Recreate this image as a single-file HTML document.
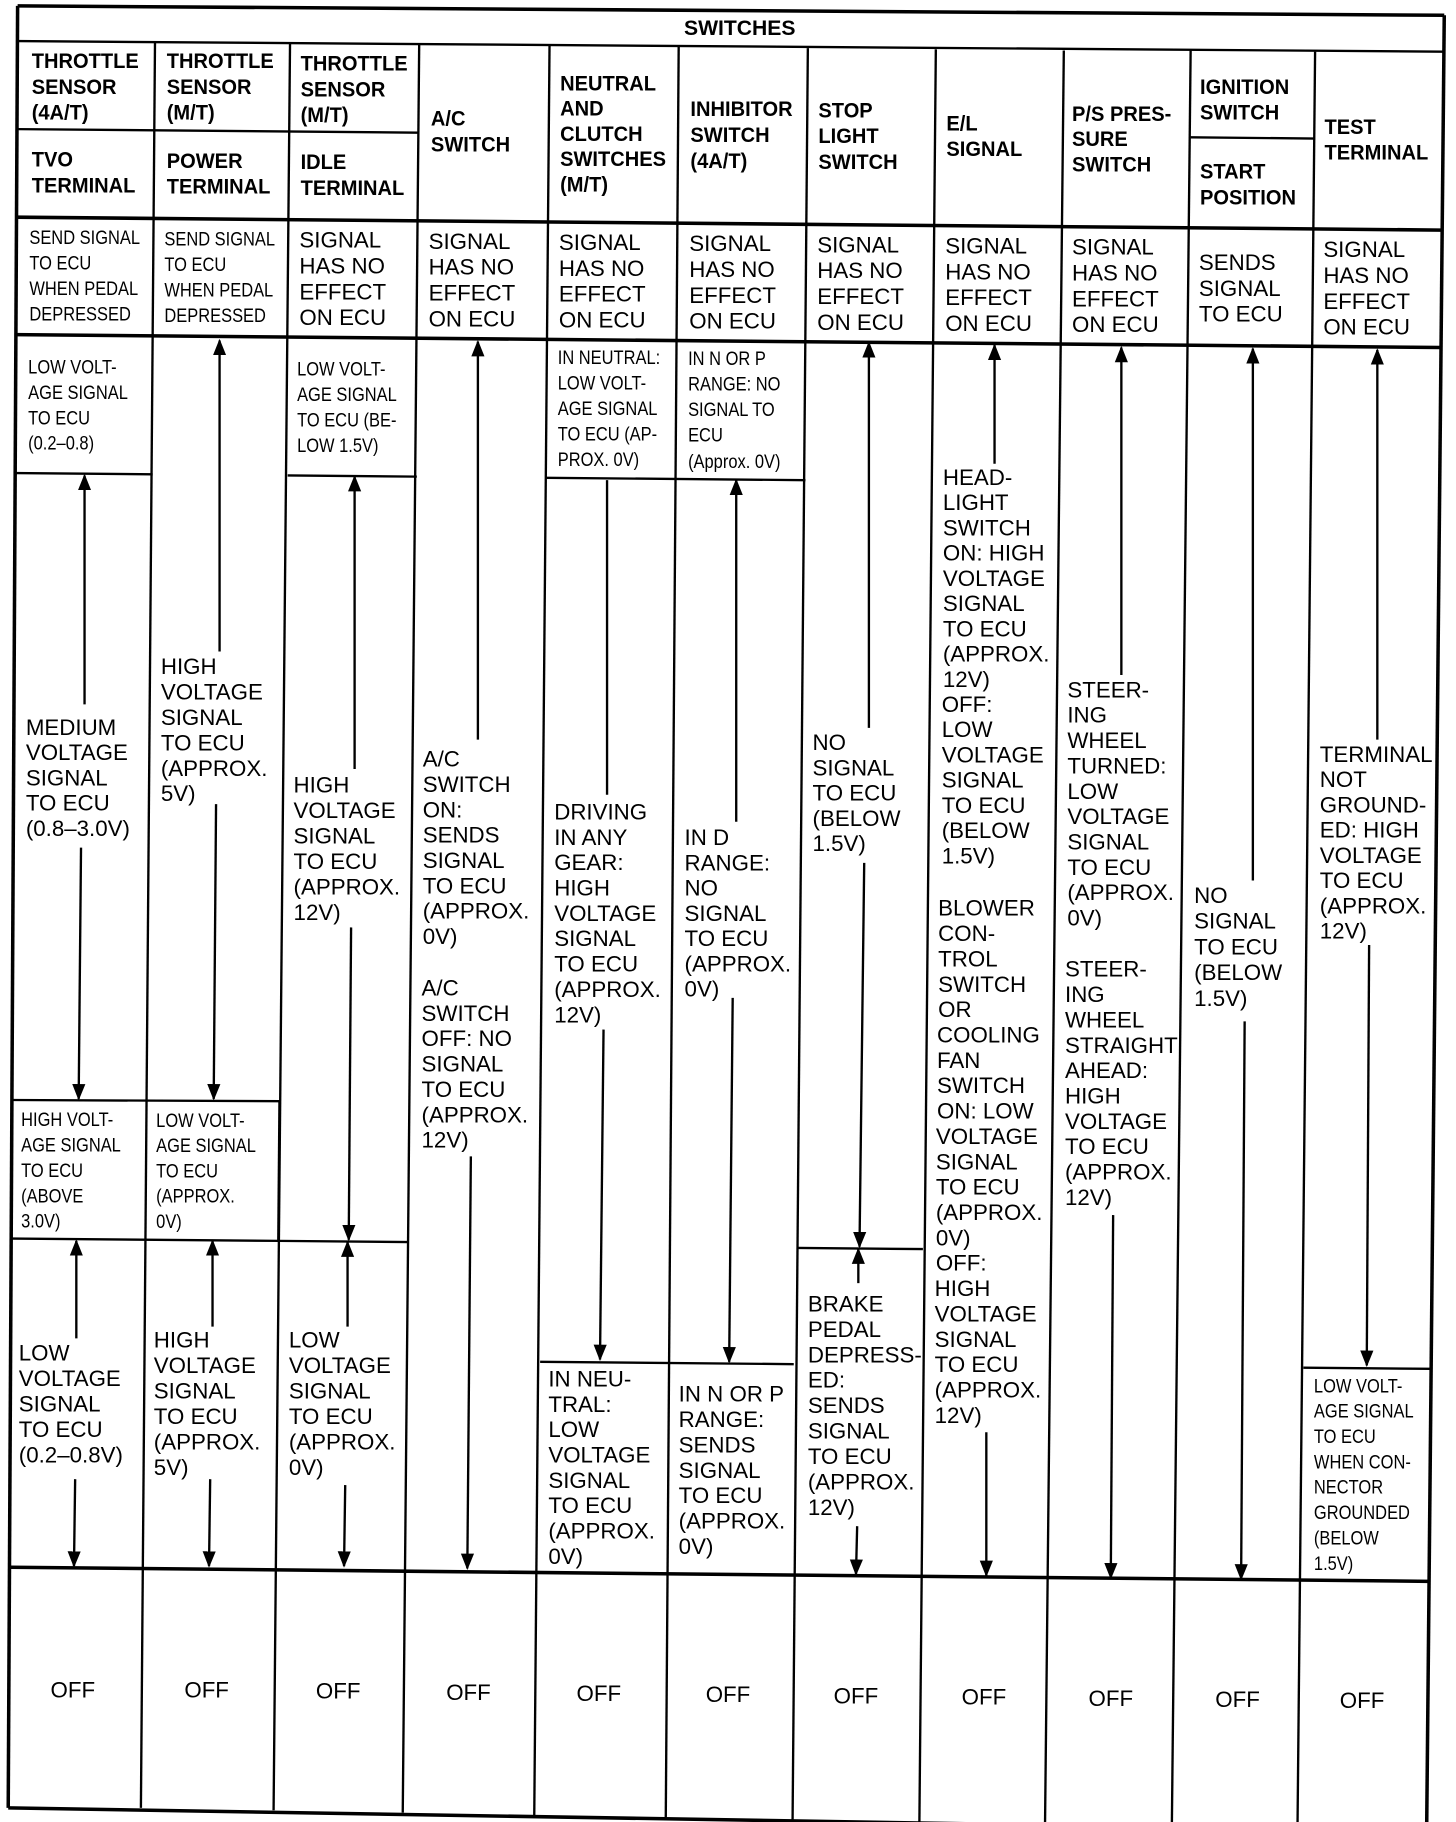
<!DOCTYPE html>
<html><head><meta charset="utf-8"><style>
html,body{margin:0;padding:0;background:#fff}
svg{display:block}
text{font-family:"Liberation Sans Narrow","Liberation Sans",sans-serif;fill:#000}
.h{font-size:18px;font-weight:bold;transform-box:fill-box;transform-origin:left center;transform:scaleX(0.95)}
.b{font-size:19px}
.c{font-size:16.5px;transform-box:fill-box;transform-origin:left center;transform:scaleX(0.85)}
.o{font-size:19px}
line,polyline{stroke:#000;stroke-width:2;fill:none}
.t{stroke-width:3}
</style></head><body>
<svg width="1456" height="1822" viewBox="0 0 1240 1552" preserveAspectRatio="none" xmlns="http://www.w3.org/2000/svg">
<defs><marker id="a" viewBox="0 0 10 10" refX="9" refY="5" markerWidth="7" markerHeight="9" orient="auto"><path d="M0,1 L10,5 L0,9 z" fill="#000"/></marker></defs>
<line class="t" x1="15" y1="5" x2="1230" y2="13"/>
<line class="t" x1="15" y1="5" x2="7" y2="1540"/>
<line class="t" x1="1230" y1="13" x2="1215" y2="1560"/>
<line class="t" x1="7" y1="1540" x2="1215" y2="1560"/>
<line x1="15" y1="35" x2="1230" y2="44"/>
<line class="t" x1="14" y1="185" x2="1228" y2="196"/>
<line class="t" x1="13" y1="285" x2="1227" y2="296"/>
<line class="t" x1="9" y1="1335" x2="1217" y2="1347"/>
<line x1="132" y1="36" x2="120" y2="1540"/>
<line x1="247" y1="37" x2="233" y2="1542"/>
<line x1="357" y1="38" x2="343" y2="1544"/>
<line x1="468" y1="39" x2="455" y2="1546"/>
<line x1="578" y1="40" x2="567" y2="1548"/>
<line x1="688" y1="41" x2="675" y2="1550"/>
<line x1="797" y1="42" x2="783" y2="1552"/>
<line x1="906" y1="43" x2="890" y2="1554"/>
<line x1="1014" y1="43" x2="998" y2="1556"/>
<line x1="1120" y1="44" x2="1105" y2="1558"/>
<line x1="15" y1="110" x2="357" y2="113"/>
<line x1="1014" y1="117" x2="1120" y2="118"/>
<line x1="13" y1="403" x2="130" y2="404"/>
<line x1="11" y1="937" x2="238" y2="938"/>
<line x1="10" y1="1055" x2="238" y2="1057"/>
<line x1="238" y1="937" x2="237" y2="1057"/>
<line x1="245" y1="405" x2="355" y2="406"/>
<line x1="237" y1="1057" x2="348" y2="1058"/>
<line x1="465" y1="407" x2="686" y2="409"/>
<line x1="460" y1="1160" x2="676" y2="1162"/>
<line x1="680" y1="1063" x2="786" y2="1064"/>
<line x1="1110" y1="1165" x2="1218" y2="1166"/>
<g>
<line x1="72" y1="600" x2="72" y2="405" marker-end="url(#a)"/><line x1="69" y1="722" x2="67" y2="936" marker-end="url(#a)"/>
<line x1="65" y1="1140" x2="65" y2="1057" marker-end="url(#a)"/><line x1="64" y1="1260" x2="63" y2="1334" marker-end="url(#a)"/>
<line x1="187" y1="555" x2="187" y2="290" marker-end="url(#a)"/><line x1="184" y1="685" x2="182" y2="936" marker-end="url(#a)"/>
<line x1="181" y1="1130" x2="181" y2="1057" marker-end="url(#a)"/><line x1="179" y1="1260" x2="178" y2="1334" marker-end="url(#a)"/>
<line x1="302" y1="655" x2="302" y2="406" marker-end="url(#a)"/><line x1="299" y1="790" x2="297" y2="1056" marker-end="url(#a)"/>
<line x1="296" y1="1130" x2="296" y2="1058" marker-end="url(#a)"/><line x1="294" y1="1265" x2="293" y2="1334" marker-end="url(#a)"/>
<line x1="407" y1="630" x2="407" y2="291" marker-end="url(#a)"/><line x1="401" y1="985" x2="398" y2="1336" marker-end="url(#a)"/>
<line x1="517" y1="677" x2="517" y2="409"/><line x1="514" y1="877" x2="511" y2="1158" marker-end="url(#a)"/>
<line x1="627" y1="700" x2="627" y2="409" marker-end="url(#a)"/><line x1="624" y1="850" x2="621" y2="1160" marker-end="url(#a)"/>
<line x1="740" y1="620" x2="740" y2="292" marker-end="url(#a)"/><line x1="736" y1="735" x2="732" y2="1062" marker-end="url(#a)"/>
<line x1="731" y1="1093" x2="731" y2="1064" marker-end="url(#a)"/><line x1="730" y1="1300" x2="729" y2="1341" marker-end="url(#a)"/>
<line x1="847" y1="395" x2="847" y2="294" marker-end="url(#a)"/><line x1="840" y1="1220" x2="840" y2="1342" marker-end="url(#a)"/>
<line x1="955" y1="575" x2="955" y2="296" marker-end="url(#a)"/><line x1="948" y1="1035" x2="946" y2="1344" marker-end="url(#a)"/>
<line x1="1067" y1="750" x2="1067" y2="297" marker-end="url(#a)"/><line x1="1060" y1="870" x2="1057" y2="1345" marker-end="url(#a)"/>
<line x1="1173" y1="630" x2="1173" y2="298" marker-end="url(#a)"/><line x1="1166" y1="805" x2="1164" y2="1163" marker-end="url(#a)"/>
</g>
<text x="630" y="30" text-anchor="middle" style="font-size:18px;font-weight:bold">SWITCHES</text>
<text class="h"><tspan x="27" y="58">THROTTLE</tspan><tspan x="27" dy="22">SENSOR</tspan><tspan x="27" dy="22">(4A/T)</tspan><tspan x="27" y="142">TVO</tspan><tspan x="27" dy="22">TERMINAL</tspan></text>
<text class="h"><tspan x="142" y="58">THROTTLE</tspan><tspan x="142" dy="22">SENSOR</tspan><tspan x="142" dy="22">(M/T)</tspan><tspan x="142" y="143">POWER</tspan><tspan x="142" dy="22">TERMINAL</tspan></text>
<text class="h"><tspan x="256" y="60">THROTTLE</tspan><tspan x="256" dy="22">SENSOR</tspan><tspan x="256" dy="22">(M/T)</tspan><tspan x="256" y="144">IDLE</tspan><tspan x="256" dy="22">TERMINAL</tspan></text>
<text class="h"><tspan x="367" y="107">A/C</tspan><tspan x="367" dy="22">SWITCH</tspan></text>
<text class="h"><tspan x="477" y="77">NEUTRAL</tspan><tspan x="477" dy="21.5">AND</tspan><tspan x="477" dy="21.5">CLUTCH</tspan><tspan x="477" dy="21.5">SWITCHES</tspan><tspan x="477" dy="21.5">(M/T)</tspan></text>
<text class="h"><tspan x="588" y="99">INHIBITOR</tspan><tspan x="588" dy="22">SWITCH</tspan><tspan x="588" dy="22">(4A/T)</tspan></text>
<text class="h"><tspan x="697" y="100">STOP</tspan><tspan x="697" dy="22">LIGHT</tspan><tspan x="697" dy="22">SWITCH</tspan></text>
<text class="h"><tspan x="806" y="111">E/L</tspan><tspan x="806" dy="22">SIGNAL</tspan></text>
<text class="h"><tspan x="913" y="103">P/S PRES-</tspan><tspan x="913" dy="21.5">SURE</tspan><tspan x="913" dy="21.5">SWITCH</tspan></text>
<text class="h"><tspan x="1022" y="80">IGNITION</tspan><tspan x="1022" dy="22">SWITCH</tspan><tspan x="1022" y="152">START</tspan><tspan x="1022" dy="22">POSITION</tspan></text>
<text class="h"><tspan x="1128" y="114">TEST</tspan><tspan x="1128" dy="22">TERMINAL</tspan></text>
<text class="c"><tspan x="25" y="208">SEND SIGNAL</tspan><tspan x="25" dy="21.7">TO ECU</tspan><tspan x="25" dy="21.7">WHEN PEDAL</tspan><tspan x="25" dy="21.7">DEPRESSED</tspan></text>
<text class="c"><tspan x="140" y="209">SEND SIGNAL</tspan><tspan x="140" dy="21.7">TO ECU</tspan><tspan x="140" dy="21.7">WHEN PEDAL</tspan><tspan x="140" dy="21.7">DEPRESSED</tspan></text>
<text class="b"><tspan x="255" y="211">SIGNAL</tspan><tspan x="255" dy="22">HAS NO</tspan><tspan x="255" dy="22">EFFECT</tspan><tspan x="255" dy="22">ON ECU</tspan></text>
<text class="b"><tspan x="365" y="212">SIGNAL</tspan><tspan x="365" dy="22">HAS NO</tspan><tspan x="365" dy="22">EFFECT</tspan><tspan x="365" dy="22">ON ECU</tspan></text>
<text class="b"><tspan x="476" y="213">SIGNAL</tspan><tspan x="476" dy="22">HAS NO</tspan><tspan x="476" dy="22">EFFECT</tspan><tspan x="476" dy="22">ON ECU</tspan></text>
<text class="b"><tspan x="587" y="214">SIGNAL</tspan><tspan x="587" dy="22">HAS NO</tspan><tspan x="587" dy="22">EFFECT</tspan><tspan x="587" dy="22">ON ECU</tspan></text>
<text class="b"><tspan x="696" y="215">SIGNAL</tspan><tspan x="696" dy="22">HAS NO</tspan><tspan x="696" dy="22">EFFECT</tspan><tspan x="696" dy="22">ON ECU</tspan></text>
<text class="b"><tspan x="805" y="216">SIGNAL</tspan><tspan x="805" dy="22">HAS NO</tspan><tspan x="805" dy="22">EFFECT</tspan><tspan x="805" dy="22">ON ECU</tspan></text>
<text class="b"><tspan x="913" y="217">SIGNAL</tspan><tspan x="913" dy="22">HAS NO</tspan><tspan x="913" dy="22">EFFECT</tspan><tspan x="913" dy="22">ON ECU</tspan></text>
<text class="b"><tspan x="1021" y="230">SENDS</tspan><tspan x="1021" dy="22">SIGNAL</tspan><tspan x="1021" dy="22">TO ECU</tspan></text>
<text class="b"><tspan x="1127" y="219">SIGNAL</tspan><tspan x="1127" dy="22">HAS NO</tspan><tspan x="1127" dy="22">EFFECT</tspan><tspan x="1127" dy="22">ON ECU</tspan></text>
<text class="c"><tspan x="24" y="318">LOW VOLT-</tspan><tspan x="24" dy="21.7">AGE SIGNAL</tspan><tspan x="24" dy="21.7">TO ECU</tspan><tspan x="24" dy="21.7">(0.2–0.8)</tspan></text>
<text class="b"><tspan x="22" y="626">MEDIUM</tspan><tspan x="22" dy="21.5">VOLTAGE</tspan><tspan x="22" dy="21.5">SIGNAL</tspan><tspan x="22" dy="21.5">TO ECU</tspan><tspan x="22" dy="21.5">(0.8–3.0V)</tspan></text>
<text class="c"><tspan x="18" y="959">HIGH VOLT-</tspan><tspan x="18" dy="21.7">AGE SIGNAL</tspan><tspan x="18" dy="21.7">TO ECU</tspan><tspan x="18" dy="21.7">(ABOVE</tspan><tspan x="18" dy="21.7">3.0V)</tspan></text>
<text class="b"><tspan x="16" y="1159">LOW</tspan><tspan x="16" dy="21.7">VOLTAGE</tspan><tspan x="16" dy="21.7">SIGNAL</tspan><tspan x="16" dy="21.7">TO ECU</tspan><tspan x="16" dy="21.7">(0.2–0.8V)</tspan></text>
<text class="b"><tspan x="137" y="574">HIGH</tspan><tspan x="137" dy="21.7">VOLTAGE</tspan><tspan x="137" dy="21.7">SIGNAL</tspan><tspan x="137" dy="21.7">TO ECU</tspan><tspan x="137" dy="21.7">(APPROX.</tspan><tspan x="137" dy="21.7">5V)</tspan></text>
<text class="c"><tspan x="133" y="960">LOW VOLT-</tspan><tspan x="133" dy="21.5">AGE SIGNAL</tspan><tspan x="133" dy="21.5">TO ECU</tspan><tspan x="133" dy="21.5">(APPROX.</tspan><tspan x="133" dy="21.5">0V)</tspan></text>
<text class="b"><tspan x="131" y="1148">HIGH</tspan><tspan x="131" dy="21.7">VOLTAGE</tspan><tspan x="131" dy="21.7">SIGNAL</tspan><tspan x="131" dy="21.7">TO ECU</tspan><tspan x="131" dy="21.7">(APPROX.</tspan><tspan x="131" dy="21.7">5V)</tspan></text>
<text class="c"><tspan x="253" y="320">LOW VOLT-</tspan><tspan x="253" dy="21.7">AGE SIGNAL</tspan><tspan x="253" dy="21.7">TO ECU (BE-</tspan><tspan x="253" dy="21.7">LOW 1.5V)</tspan></text>
<text class="b"><tspan x="250" y="675">HIGH</tspan><tspan x="250" dy="21.7">VOLTAGE</tspan><tspan x="250" dy="21.7">SIGNAL</tspan><tspan x="250" dy="21.7">TO ECU</tspan><tspan x="250" dy="21.7">(APPROX.</tspan><tspan x="250" dy="21.7">12V)</tspan></text>
<text class="b"><tspan x="246" y="1148">LOW</tspan><tspan x="246" dy="21.7">VOLTAGE</tspan><tspan x="246" dy="21.7">SIGNAL</tspan><tspan x="246" dy="21.7">TO ECU</tspan><tspan x="246" dy="21.7">(APPROX.</tspan><tspan x="246" dy="21.7">0V)</tspan></text>
<text class="b"><tspan x="360" y="653">A/C</tspan><tspan x="360" dy="21.6">SWITCH</tspan><tspan x="360" dy="21.6">ON:</tspan><tspan x="360" dy="21.6">SENDS</tspan><tspan x="360" dy="21.6">SIGNAL</tspan><tspan x="360" dy="21.6">TO ECU</tspan><tspan x="360" dy="21.6">(APPROX.</tspan><tspan x="360" dy="21.6">0V)</tspan></text>
<text class="b"><tspan x="359" y="848">A/C</tspan><tspan x="359" dy="21.6">SWITCH</tspan><tspan x="359" dy="21.6">OFF: NO</tspan><tspan x="359" dy="21.6">SIGNAL</tspan><tspan x="359" dy="21.6">TO ECU</tspan><tspan x="359" dy="21.6">(APPROX.</tspan><tspan x="359" dy="21.6">12V)</tspan></text>
<text class="c"><tspan x="475" y="310">IN NEUTRAL:</tspan><tspan x="475" dy="21.7">LOW VOLT-</tspan><tspan x="475" dy="21.7">AGE SIGNAL</tspan><tspan x="475" dy="21.7">TO ECU (AP-</tspan><tspan x="475" dy="21.7">PROX. 0V)</tspan></text>
<text class="b"><tspan x="472" y="698">DRIVING</tspan><tspan x="472" dy="21.6">IN ANY</tspan><tspan x="472" dy="21.6">GEAR:</tspan><tspan x="472" dy="21.6">HIGH</tspan><tspan x="472" dy="21.6">VOLTAGE</tspan><tspan x="472" dy="21.6">SIGNAL</tspan><tspan x="472" dy="21.6">TO ECU</tspan><tspan x="472" dy="21.6">(APPROX.</tspan><tspan x="472" dy="21.6">12V)</tspan></text>
<text class="b"><tspan x="467" y="1181">IN NEU-</tspan><tspan x="467" dy="21.6">TRAL:</tspan><tspan x="467" dy="21.6">LOW</tspan><tspan x="467" dy="21.6">VOLTAGE</tspan><tspan x="467" dy="21.6">SIGNAL</tspan><tspan x="467" dy="21.6">TO ECU</tspan><tspan x="467" dy="21.6">(APPROX.</tspan><tspan x="467" dy="21.6">0V)</tspan></text>
<text class="c"><tspan x="586" y="311">IN N OR P</tspan><tspan x="586" dy="21.7">RANGE: NO</tspan><tspan x="586" dy="21.7">SIGNAL TO</tspan><tspan x="586" dy="21.7">ECU</tspan><tspan x="586" dy="22.5">(Approx. 0V)</tspan></text>
<text class="b"><tspan x="583" y="720">IN D</tspan><tspan x="583" dy="21.5">RANGE:</tspan><tspan x="583" dy="21.5">NO</tspan><tspan x="583" dy="21.5">SIGNAL</tspan><tspan x="583" dy="21.5">TO ECU</tspan><tspan x="583" dy="21.5">(APPROX.</tspan><tspan x="583" dy="21.5">0V)</tspan></text>
<text class="b"><tspan x="578" y="1194">IN N OR P</tspan><tspan x="578" dy="21.6">RANGE:</tspan><tspan x="578" dy="21.6">SENDS</tspan><tspan x="578" dy="21.6">SIGNAL</tspan><tspan x="578" dy="21.6">TO ECU</tspan><tspan x="578" dy="21.6">(APPROX.</tspan><tspan x="578" dy="21.6">0V)</tspan></text>
<text class="b"><tspan x="692" y="639">NO</tspan><tspan x="692" dy="21.5">SIGNAL</tspan><tspan x="692" dy="21.5">TO ECU</tspan><tspan x="692" dy="21.5">(BELOW</tspan><tspan x="692" dy="21.5">1.5V)</tspan></text>
<text class="b"><tspan x="688" y="1117">BRAKE</tspan><tspan x="688" dy="21.7">PEDAL</tspan><tspan x="688" dy="21.7">DEPRESS-</tspan><tspan x="688" dy="21.7">ED:</tspan><tspan x="688" dy="21.7">SENDS</tspan><tspan x="688" dy="21.7">SIGNAL</tspan><tspan x="688" dy="21.7">TO ECU</tspan><tspan x="688" dy="21.7">(APPROX.</tspan><tspan x="688" dy="21.7">12V)</tspan></text>
<text class="b"><tspan x="803" y="413">HEAD-</tspan><tspan x="803" dy="21.5">LIGHT</tspan><tspan x="803" dy="21.5">SWITCH</tspan><tspan x="803" dy="21.5">ON: HIGH</tspan><tspan x="803" dy="21.5">VOLTAGE</tspan><tspan x="803" dy="21.5">SIGNAL</tspan><tspan x="803" dy="21.5">TO ECU</tspan><tspan x="803" dy="21.5">(APPROX.</tspan><tspan x="803" dy="21.5">12V)</tspan><tspan x="802" dy="21.5">OFF:</tspan><tspan x="802" dy="21.5">LOW</tspan><tspan x="802" dy="21.5">VOLTAGE</tspan><tspan x="802" dy="21.5">SIGNAL</tspan><tspan x="802" dy="21.5">TO ECU</tspan><tspan x="802" dy="21.5">(BELOW</tspan><tspan x="802" dy="21.5">1.5V)</tspan></text>
<text class="b"><tspan x="799" y="780">BLOWER</tspan><tspan x="799" dy="21.6">CON-</tspan><tspan x="799" dy="21.6">TROL</tspan><tspan x="799" dy="21.6">SWITCH</tspan><tspan x="799" dy="21.6">OR</tspan><tspan x="798" dy="21.6">COOLING</tspan><tspan x="798" dy="21.6">FAN</tspan><tspan x="798" dy="21.6">SWITCH</tspan><tspan x="798" dy="21.6">ON: LOW</tspan><tspan x="797" dy="21.6">VOLTAGE</tspan><tspan x="797" dy="21.6">SIGNAL</tspan><tspan x="797" dy="21.6">TO ECU</tspan><tspan x="797" dy="21.6">(APPROX.</tspan><tspan x="797" dy="21.6">0V)</tspan><tspan x="797" dy="21.6">OFF:</tspan><tspan x="796" dy="21.6">HIGH</tspan><tspan x="796" dy="21.6">VOLTAGE</tspan><tspan x="796" dy="21.6">SIGNAL</tspan><tspan x="796" dy="21.6">TO ECU</tspan><tspan x="796" dy="21.6">(APPROX.</tspan><tspan x="796" dy="21.6">12V)</tspan></text>
<text class="b"><tspan x="909" y="594">STEER-</tspan><tspan x="909" dy="21.6">ING</tspan><tspan x="909" dy="21.6">WHEEL</tspan><tspan x="909" dy="21.6">TURNED:</tspan><tspan x="909" dy="21.6">LOW</tspan><tspan x="909" dy="21.6">VOLTAGE</tspan><tspan x="909" dy="21.6">SIGNAL</tspan><tspan x="909" dy="21.6">TO ECU</tspan><tspan x="909" dy="21.6">(APPROX.</tspan><tspan x="909" dy="21.6">0V)</tspan></text>
<text class="b"><tspan x="907" y="832">STEER-</tspan><tspan x="907" dy="21.6">ING</tspan><tspan x="907" dy="21.6">WHEEL</tspan><tspan x="907" dy="21.6">STRAIGHT</tspan><tspan x="907" dy="21.6">AHEAD:</tspan><tspan x="907" dy="21.6">HIGH</tspan><tspan x="907" dy="21.6">VOLTAGE</tspan><tspan x="907" dy="21.6">TO ECU</tspan><tspan x="907" dy="21.6">(APPROX.</tspan><tspan x="907" dy="21.6">12V)</tspan></text>
<text class="b"><tspan x="1017" y="769">NO</tspan><tspan x="1017" dy="22">SIGNAL</tspan><tspan x="1017" dy="22">TO ECU</tspan><tspan x="1017" dy="22">(BELOW</tspan><tspan x="1017" dy="22">1.5V)</tspan></text>
<text class="b"><tspan x="1124" y="649">TERMINAL</tspan><tspan x="1124" dy="21.5">NOT</tspan><tspan x="1124" dy="21.5">GROUND-</tspan><tspan x="1124" dy="21.5">ED: HIGH</tspan><tspan x="1124" dy="21.5">VOLTAGE</tspan><tspan x="1124" dy="21.5">TO ECU</tspan><tspan x="1124" dy="21.5">(APPROX.</tspan><tspan x="1124" dy="21.5">12V)</tspan></text>
<text class="c"><tspan x="1119" y="1186">LOW VOLT-</tspan><tspan x="1119" dy="21.6">AGE SIGNAL</tspan><tspan x="1119" dy="21.6">TO ECU</tspan><tspan x="1119" dy="21.6">WHEN CON-</tspan><tspan x="1119" dy="21.6">NECTOR</tspan><tspan x="1119" dy="21.6">GROUNDED</tspan><tspan x="1119" dy="21.6">(BELOW</tspan><tspan x="1119" dy="21.6">1.5V)</tspan></text>
<g text-anchor="middle">
<text class="o" x="62" y="1446">OFF</text><text class="o" x="176" y="1446">OFF</text><text class="o" x="288" y="1447">OFF</text><text class="o" x="399" y="1448">OFF</text><text class="o" x="510" y="1449">OFF</text><text class="o" x="620" y="1450">OFF</text><text class="o" x="729" y="1451">OFF</text><text class="o" x="838" y="1452">OFF</text><text class="o" x="946" y="1453">OFF</text><text class="o" x="1054" y="1454">OFF</text><text class="o" x="1160" y="1455">OFF</text>
</g>
</svg>
</body></html>
